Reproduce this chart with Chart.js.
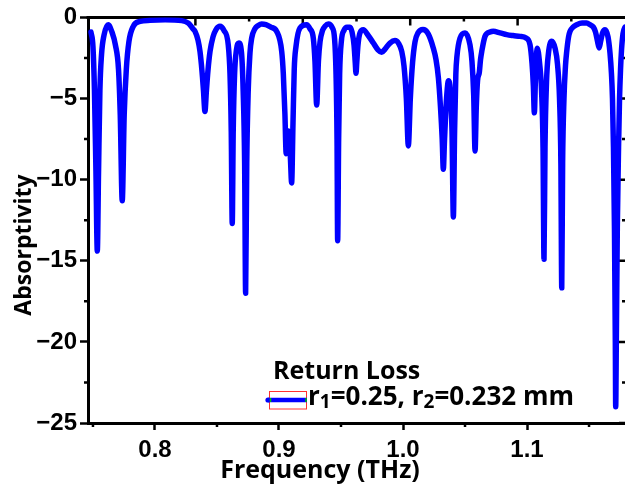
<!DOCTYPE html>
<html>
<head>
<meta charset="utf-8">
<script src="https://cdn.jsdelivr.net/npm/chart.js@4.4.1/dist/chart.umd.min.js"></script>
<style>
  html, body { margin: 0; padding: 0; background: #fff; }
</style>
</head>
<body>
<canvas id="chart" width="625" height="486"></canvas>
<script>
// values
const freqTHz = [
  0.7484, 0.7500, 0.7512, 0.7524, 0.7535, 0.7545, 0.7556, 0.7569, 0.7589, 0.7623,
  0.7653, 0.7681, 0.7706, 0.7720, 0.7736, 0.7752, 0.7769, 0.7790, 0.7825, 0.7879,
  0.7960, 0.8081, 0.8215, 0.8269, 0.8306,
  0.8323, 0.8347, 0.8363, 0.8379, 0.8391, 0.8403, 0.8415, 0.8427, 0.8444, 0.8468, 0.8492, 0.8524,
  0.8556, 0.8591, 0.8605, 0.8615, 0.8623, 0.8631, 0.8642, 0.8657, 0.8677,
  0.8698, 0.8711, 0.8723, 0.8731, 0.8740, 0.8752, 0.8766, 0.8780, 0.8806, 0.8833, 0.8860, 0.8895, 0.8935, 0.8981,
  0.9022, 0.9035, 0.9048, 0.9058, 0.9075, 0.9091, 0.9102, 0.9113, 0.9123, 0.9137, 0.9169, 0.9223,
  0.9250, 0.9277, 0.9290, 0.9304, 0.9318, 0.9331, 0.9351, 0.9371, 0.9398,
  0.9427, 0.9448, 0.9460, 0.9468, 0.9473, 0.9481, 0.9489, 0.9504, 0.9524, 0.9548, 0.9573,
  0.9589, 0.9605, 0.9615, 0.9621, 0.9627, 0.9637, 0.9653, 0.9680, 0.9718, 0.9761, 0.9798, 0.9828, 0.9855, 0.9895, 0.9935, 0.9964,
  0.9990, 1.0008, 1.0027, 1.0043, 1.0059, 1.0077, 1.0097, 1.0121, 1.0161,
  1.0202, 1.0244, 1.0266, 1.0285, 1.0302, 1.0316, 1.0325, 1.0335, 1.0351, 1.0367, 1.0381, 1.0395, 1.0406, 1.0416, 1.0426, 1.0435, 1.0460, 1.0500,
  1.0540, 1.0556, 1.0570, 1.0581, 1.0591, 1.0601, 1.0615, 1.0625, 1.0635, 1.0661, 1.0702, 1.0728, 1.0782, 1.0836, 1.0887, 1.0944, 1.0992,
  1.1024, 1.1040, 1.1051, 1.1059, 1.1069, 1.1083, 1.1101, 1.1117, 1.1129, 1.1137, 1.1145, 1.1157, 1.1173, 1.1199,
  1.1226, 1.1246, 1.1262, 1.1273, 1.1280, 1.1287, 1.1298, 1.1310, 1.1320, 1.1335, 1.1347, 1.1371, 1.1401, 1.1444, 1.1481, 1.1508, 1.1535,
  1.1552, 1.1569, 1.1581, 1.1593, 1.1609, 1.1629,
  1.1653, 1.1669, 1.1681, 1.1689, 1.1697, 1.1705, 1.1712, 1.1715, 1.1720, 1.1728, 1.1738, 1.1746, 1.1754, 1.1762, 1.1774, 1.1790, 1.1806
];
const absorptivity = [
  -0.90, -1.80, -4.50, -9.50, -14.40, -9.50, -4.50, -2.30, -1.10, -0.45,
  -0.90, -1.70, -3.20, -6.00, -11.30, -6.00, -3.20, -1.50, -0.55, -0.25,
  -0.18, -0.15, -0.20, -0.35, -0.70,
  -0.86, -1.40, -2.10, -3.30, -4.50, -5.80, -4.50, -3.30, -2.10, -1.20, -0.75, -0.55,
  -0.80, -1.70, -3.50, -7.00, -12.70, -7.00, -3.50, -2.00, -1.58,
  -2.20, -4.50, -9.00, -17.00, -9.00, -4.50, -2.20, -1.27, -0.70, -0.50, -0.41, -0.45, -0.60, -0.86,
  -2.10, -3.50, -6.00, -8.40, -7.00, -8.50, -10.20, -6.50, -3.20, -1.80, -0.65, -0.45,
  -0.70, -1.30, -2.70, -5.40, -2.70, -1.50, -0.80, -0.55, -0.41,
  -0.60, -1.30, -3.50, -7.50, -13.76, -7.50, -3.50, -1.40, -0.80, -0.60, -0.60,
  -0.90, -1.70, -2.80, -3.45, -2.80, -1.70, -0.95, -0.76, -1.10, -1.58, -2.00, -2.15, -1.95, -1.58, -1.43, -1.60,
  -2.10, -3.00, -5.00, -7.92, -5.00, -2.80, -1.50, -0.95, -0.75,
  -1.00, -1.88, -2.60, -3.70, -5.50, -7.50, -9.36, -7.50, -5.00, -3.90, -4.50, -7.00, -12.30, -7.00, -3.50, -2.40, -1.27, -0.96,
  -1.68, -2.70, -4.80, -8.23, -5.50, -3.90, -3.40, -2.60, -2.10, -1.17, -0.90, -0.86, -0.95, -1.06, -1.12, -1.17, -1.27,
  -1.68, -2.80, -4.20, -5.88, -3.50, -1.90, -2.80, -4.50, -8.00, -14.90, -8.00, -4.00, -2.20, -1.47,
  -1.90, -2.90, -5.00, -9.00, -16.67, -9.00, -5.00, -3.00, -2.10, -1.20, -0.86, -0.60, -0.45, -0.35, -0.35, -0.45, -0.60,
  -0.90, -1.50, -1.88, -1.50, -0.95, -0.76,
  -1.20, -2.20, -3.50, -5.00, -8.00, -13.00, -20.00, -24.00, -20.00, -13.00, -8.00, -5.00, -3.20, -2.00, -1.00, -0.60, -0.50
];

const xMajorTicks = [0.8, 0.9, 1.0, 1.1];
const xMinorTicks = [0.75, 0.85, 0.95, 1.05, 1.15];
const yMajorTicks = [0, -5, -10, -15, -20, -25];
const yMinorTicks = [-2.5, -7.5, -12.5, -17.5, -22.5];
// top frame carries its own unlabeled ticks, ten equal steps
const topMajorTicks = [2, 4, 6, 8];
const topMinorTicks = [1, 3, 5, 7, 9];

const xTitle = 'Frequency (THz)';
const yTitle = 'Absorptivity';
const legendTitle = 'Return Loss';
const legendParts = [['r', false], ['1', true], ['=0.25, r', false], ['2', true], ['=0.232 mm', false]];

const BLUE = '#0000ff';
const TICK_FONT = { family: 'Liberation Sans', size: 24, weight: 'bold' };
const TITLE_FAMILY = '"Open Sans"';

const frameTicks = {
  id: 'frameTicks',
  beforeDatasetsDraw(chart) {
    const { ctx, chartArea: a, scales } = chart;
    const x = scales.x, y = scales.y, top = scales.xTop;
    ctx.save();
    ctx.strokeStyle = '#000';
    ctx.lineWidth = 2.5;
    ctx.beginPath();
    xMinorTicks.forEach(v => {
      const px = x.getPixelForValue(v);
      ctx.moveTo(px, a.bottom); ctx.lineTo(px, a.bottom + 4);
    });
    yMinorTicks.forEach(v => {
      const py = y.getPixelForValue(v);
      ctx.moveTo(a.left, py); ctx.lineTo(a.left - 4, py);
      ctx.moveTo(a.right, py); ctx.lineTo(a.right - 3, py);
    });
    yMajorTicks.forEach(v => {
      const py = y.getPixelForValue(v);
      ctx.moveTo(a.right, py); ctx.lineTo(a.right - 6, py);
    });
    topMajorTicks.forEach(v => {
      const px = top.getPixelForValue(v);
      ctx.moveTo(px, a.top); ctx.lineTo(px, a.top + 8);
    });
    topMinorTicks.forEach(v => {
      const px = top.getPixelForValue(v);
      ctx.moveTo(px, a.top); ctx.lineTo(px, a.top + 4);
    });
    ctx.stroke();
    // top frame line
    ctx.lineWidth = 3;
    ctx.beginPath();
    ctx.moveTo(a.left - 1.5, a.top);
    ctx.lineTo(a.right + 2, a.top);
    ctx.stroke();
    ctx.restore();
  }
};

const textLayer = {
  id: 'textLayer',
  afterDraw(chart) {
    const ctx = chart.ctx;
    ctx.save();
    ctx.fillStyle = '#000';
    ctx.textBaseline = 'alphabetic';

    // axis titles
    ctx.font = 'bold 25px ' + TITLE_FAMILY;
    ctx.textAlign = 'center';
    ctx.fillText(xTitle, 320, 478);
    ctx.save();
    ctx.translate(31, 245);
    ctx.rotate(-Math.PI / 2);
    ctx.font = 'bold 23px ' + TITLE_FAMILY;
    ctx.fillText(yTitle, 0, 0);
    ctx.restore();

    // legend
    ctx.textAlign = 'left';
    ctx.font = 'bold 25px ' + TITLE_FAMILY;
    ctx.fillText(legendTitle, 273, 379);

    ctx.strokeStyle = '#ff3030';
    ctx.lineWidth = 1;
    ctx.strokeRect(269.5, 391.5, 37, 17.5);
    ctx.strokeStyle = BLUE;
    ctx.lineWidth = 4.5;
    ctx.beginPath();
    ctx.moveTo(268, 400); ctx.lineTo(307, 400);
    ctx.stroke();
    ctx.fillStyle = BLUE;
    ctx.beginPath();
    ctx.arc(268, 400, 2.6, 0, Math.PI * 2);
    ctx.fill();
    ctx.strokeStyle = '#00c000';
    ctx.lineWidth = 1.5;
    ctx.beginPath();
    ctx.moveTo(270.5, 398); ctx.lineTo(270.5, 402);
    ctx.moveTo(306, 398); ctx.lineTo(306, 402);
    ctx.stroke();

    ctx.fillStyle = '#000';
    let cx = 308;
    legendParts.forEach(([t, sub]) => {
      ctx.font = sub ? 'bold 19px ' + TITLE_FAMILY : 'bold 26px ' + TITLE_FAMILY;
      ctx.fillText(t, cx, sub ? 408 : 405);
      cx += ctx.measureText(t).width;
    });
    ctx.restore();
  }
};

new Chart(document.getElementById('chart'), {
  type: 'line',
  data: {
    datasets: [{
      data: freqTHz.map((f, i) => ({ x: f, y: absorptivity[i] })),
      borderColor: BLUE,
      borderWidth: 5.5,
      pointRadius: 0,
      fill: false,
      cubicInterpolationMode: 'monotone',
      borderJoinStyle: 'round',
      borderCapStyle: 'round'
    }]
  },
  options: {
    responsive: false,
    animation: false,
    layout: { padding: { top: 16, right: 0, left: 0, bottom: 0 } },
    plugins: { legend: { display: false }, tooltip: { enabled: false } },
    scales: {
      x: {
        type: 'linear',
        min: 0.746,
        max: 1.179,
        afterBuildTicks: s => { s.ticks = xMajorTicks.map(v => ({ value: v })); },
        afterFit: s => { s.height = 63; },
        ticks: {
          callback: v => v.toFixed(1),
          font: TICK_FONT, color: '#000', padding: 6,
          maxRotation: 0, autoSkip: false
        },
        grid: { drawOnChartArea: false, tickLength: 7, tickWidth: 2.5, tickColor: '#000' },
        border: { display: true, color: '#000', width: 3 }
      },
      xTop: {
        type: 'linear', position: 'top', display: false, min: 0, max: 10
      },
      y: {
        type: 'linear',
        min: -25,
        max: 0,
        afterBuildTicks: s => { s.ticks = yMajorTicks.map(v => ({ value: v })); },
        afterFit: s => { s.width = 88; },
        ticks: {
          callback: v => (v === 0 ? '0' : '\u2212' + Math.abs(v)),
          font: TICK_FONT, color: '#000', padding: 3, autoSkip: false
        },
        grid: { drawOnChartArea: false, tickLength: 8, tickWidth: 2.5, tickColor: '#000' },
        border: { display: true, color: '#000', width: 3 }
      }
    }
  },
  plugins: [frameTicks, textLayer]
});
</script>
</body>
</html>
